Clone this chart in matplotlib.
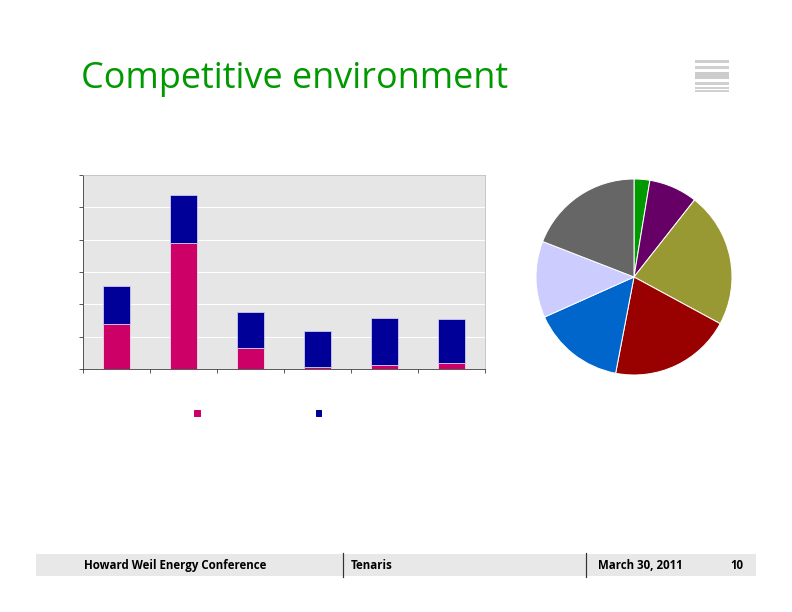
import numpy as np
import matplotlib
matplotlib.use("Agg")
import matplotlib.pyplot as plt
from matplotlib.patches import Rectangle, Patch

plt.rcParams['font.family'] = ['Open Sans', 'DejaVu Sans']

# bar chart data (no labels shown in the slide)
bar_pos = np.arange(6)
pink_vals = [1.39, 3.90, 0.65, 0.06, 0.12, 0.19]
navy_vals = [1.18, 1.49, 1.11, 1.12, 1.46, 1.36]

# pie data, clockwise from 12 o'clock
pie_vals = [2.6, 8.0, 22.3, 20.1, 15.3, 12.6, 19.1]
pie_colors = ['#009900', '#660066', '#999933', '#990000', '#0066cc', '#ccccff', '#666666']

fig = plt.figure(figsize=(11, 8.5), dpi=72)
W, H = 792, 612

def fax(x0, y0, x1, y1):
    return [x0 / W, 1 - y1 / H, (x1 - x0) / W, (y1 - y0) / H]

fig.text(81 / W, 1 - 88 / H, "Competitive environment", color='#009900',
         fontsize=36, va='baseline', ha='left')

# logo lines top right
lg = fig.add_axes(fax(695, 58, 729, 93))
lg.set_xlim(0, 1)
lg.set_ylim(93, 58)
lg.axis('off')
for y0, h, c in [(60, 3, '#cfcfcf'), (66, 3, '#d0d0d0'), (72, 7, '#cccccc'),
                 (82, 3, '#cfcfcf'), (87, 1.5, '#d0d0d0'), (90, 1.5, '#d0d0d0')]:
    lg.add_patch(Rectangle((0, y0), 1, h, color=c, lw=0))

# stacked bar chart
ax = fig.add_axes(fax(83, 175, 485, 369))
ax.set_facecolor('#e6e6e6')
ax.bar(bar_pos, pink_vals, width=0.39, color='#cc0066', edgecolor='#f0e0f0', linewidth=0.8, zorder=3)
ax.bar(bar_pos, navy_vals, bottom=pink_vals, width=0.39, color='#000099',
       edgecolor='#d0d0f0', linewidth=0.8, zorder=3)
ax.set_xlim(-0.5, 5.5)
ax.set_ylim(0, 6)
ax.set_yticks(np.arange(0, 7))
ax.set_xticks(np.arange(-0.5, 6, 1))
ax.yaxis.grid(True, color='white', linewidth=1)
ax.set_axisbelow(True)
ax.tick_params(axis='both', direction='out', length=4, width=0.8, color='#333333',
               labelleft=False, labelbottom=False)
for s in ['top', 'right']:
    ax.spines[s].set_color('#b8b8b8')
    ax.spines[s].set_linewidth(0.8)
for s in ['left', 'bottom']:
    ax.spines[s].set_color('#333333')
    ax.spines[s].set_linewidth(0.8)

handles = [Patch(color='#cc0066'), Patch(color='#000099')]
fig.legend(handles, [' ', ' '], ncol=2, loc='center left',
           bbox_to_anchor=(187 / W, 1 - 414 / H), frameon=False, fontsize=8,
           handlelength=0.7, handleheight=0.7, handletextpad=0.3, columnspacing=13.9)

# pie chart
pax = fig.add_axes(fax(634 - 98, 277 - 98, 634 + 98, 277 + 98))
pax.pie(pie_vals, colors=pie_colors, startangle=90, counterclock=False,
        wedgeprops=dict(edgecolor='white', linewidth=1))
pax.set_xlim(-1, 1)
pax.set_ylim(-1, 1)

# footer band
ft = fig.add_axes(fax(36, 554, 756, 576))
ft.set_xlim(36, 756)
ft.set_ylim(576, 554)
ft.set_facecolor('#e8e8e8')
for s in ft.spines.values():
    s.set_visible(False)
ft.set_xticks([])
ft.set_yticks([])
fkw = dict(fontsize=11.5, fontweight='bold', va='center', family=['Open Sans', 'DejaVu Sans'])
ft.text(84, 565.5, "Howard Weil Energy Conference", **fkw)
ft.text(351, 565.5, "Tenaris", **fkw)
ft.text(598, 565.5, "March 30, 2011", **fkw)
ft.text(743, 565.5, "10", ha='right', **fkw)
ft.plot([343, 343], [553, 577], color='#333333', lw=1.2, clip_on=False)
ft.plot([586, 586], [553, 577], color='#333333', lw=1.2, clip_on=False)

fig.savefig("out.png", dpi=72)
